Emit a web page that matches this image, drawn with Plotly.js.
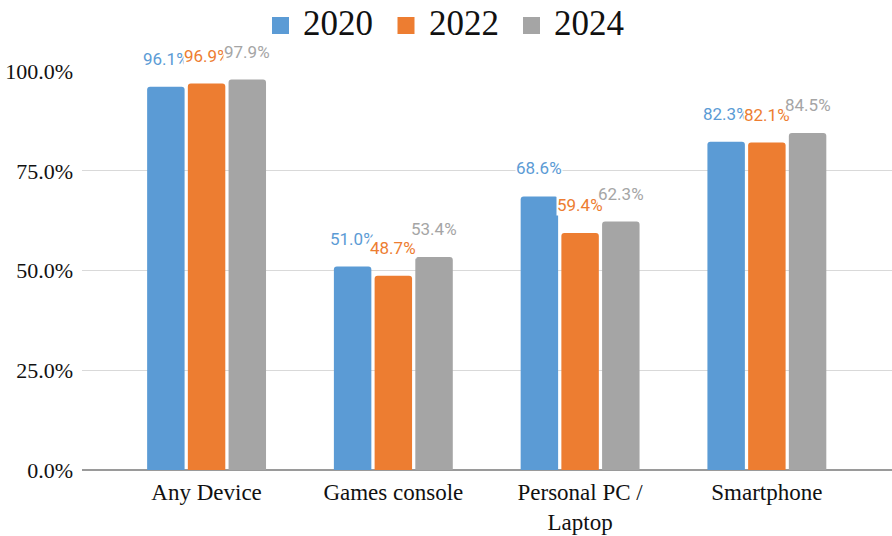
<!DOCTYPE html>
<html>
<head>
<meta charset="utf-8">
<script src="https://cdn.plot.ly/plotly-3.0.1.min.js"></script>
<style>
  html, body { margin: 0; padding: 0; background: #ffffff; }
  #chart { width: 892px; height: 536px; }
</style>
</head>
<body>
<div id="chart"></div>
<script>
// Device ownership by year
const categories = ['Any Device', 'Games console', 'Personal PC /<br>Laptop', 'Smartphone'];
const seriesNames = ['2020', '2022', '2024'];
const values2020 = [0.961, 0.510, 0.686, 0.823];
const values2022 = [0.969, 0.487, 0.594, 0.821];
const values2024 = [0.979, 0.534, 0.623, 0.845];
const seriesColors = ['#5b9bd5', '#ed7d31', '#a5a5a5'];
const yTicks = [0, 0.25, 0.5, 0.75, 1.0];

const seriesValues = [values2020, values2022, values2024];

const W = 892, H = 536;
const margin = { l: 82, r: 0, t: 71, b: 66 };
const xRange = [-0.667, 3.67];
const bargap = 0.346;
const bargroupgap = 0.08;

const serif = 'Liberation Serif, Times New Roman, serif';
const sans = 'Roboto, Arial, sans-serif';

const traces = seriesNames.map((name, i) => ({
  type: 'bar',
  name: name,
  x: categories,
  y: seriesValues[i],
  marker: { color: seriesColors[i], cornerradius: 3 },
  hoverinfo: 'x+y+name',
  showlegend: false
}));

// pixel width of one bar slot inside a group
const plotW = W - margin.l - margin.r;
const catPx = plotW / (xRange[1] - xRange[0]);
const slotPx = catPx * (1 - bargap) / seriesNames.length;

const annotations = [];

// value labels above each bar, white-backed so they sit over grid and bars
seriesNames.forEach((name, i) => {
  seriesValues[i].forEach((v, j) => {
    annotations.push({
      x: categories[j], y: v, xref: 'x', yref: 'y',
      text: (v * 100).toFixed(1) + '%',
      showarrow: false,
      xanchor: 'center', yanchor: 'middle',
      xshift: (i - (seriesNames.length - 1) / 2) * slotPx,
      yshift: 28,
      font: { family: sans, size: 17, color: seriesColors[i] },
      bgcolor: '#ffffff',
      borderpad: 0
    });
  });
});

// legend across the top: colored square + year
const shapes = [];
const legendStart = 272 - margin.l;
const legendStep = 125.5;
seriesNames.forEach((name, i) => {
  const x0 = legendStart + i * legendStep;
  shapes.push({
    type: 'rect', xref: 'paper', yref: 'paper',
    xsizemode: 'pixel', ysizemode: 'pixel',
    xanchor: 0, yanchor: 1,
    x0: x0, x1: x0 + 17,
    y0: margin.t - 34, y1: margin.t - 17,
    fillcolor: seriesColors[i], line: { width: 0 }
  });
  annotations.push({
    x: 0, y: 1, xref: 'paper', yref: 'paper',
    text: name, showarrow: false,
    xanchor: 'left', yanchor: 'middle',
    xshift: x0 + 29, yshift: margin.t - 23,
    font: { family: serif, size: 35, color: '#111111' }
  });
});

const layout = {
  width: W, height: H,
  margin: margin,
  paper_bgcolor: '#ffffff',
  plot_bgcolor: '#ffffff',
  barmode: 'group',
  bargap: bargap,
  bargroupgap: bargroupgap,
  showlegend: false,
  xaxis: {
    type: 'category',
    range: xRange,
    showgrid: false,
    zeroline: false,
    showline: false,
    ticks: '',
    tickfont: { family: serif, size: 23, color: '#111111' },
    ticklabelstandoff: 6,
    fixedrange: true
  },
  yaxis: {
    range: [0, 1.0005],
    tickvals: yTicks,
    tickformat: '.1%',
    showgrid: true,
    gridcolor: '#d9d9d9',
    gridwidth: 1,
    zeroline: true,
    zerolinecolor: '#9a9a9a',
    zerolinewidth: 2,
    showline: false,
    ticks: '',
    ticklabelstandoff: 8,
    tickfont: { family: serif, size: 22, color: '#111111' },
    fixedrange: true
  },
  annotations: annotations,
  shapes: shapes
};

Plotly.newPlot('chart', traces, layout, { displayModeBar: false, staticPlot: true });
</script>
</body>
</html>
